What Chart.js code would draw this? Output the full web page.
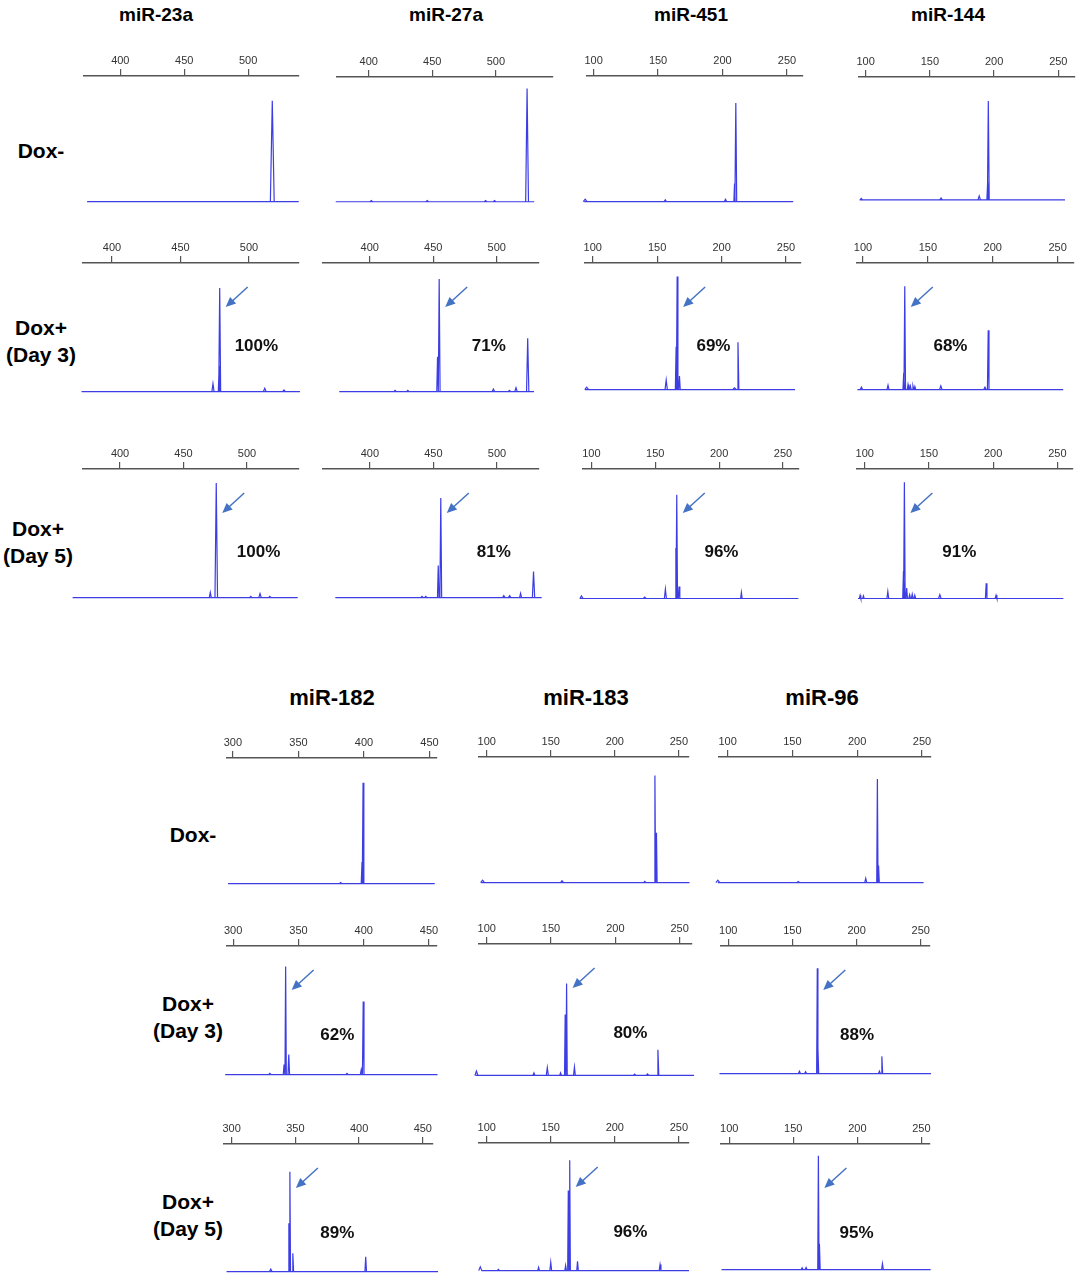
<!DOCTYPE html>
<html>
<head>
<meta charset="utf-8">
<title>miRNA fragment analysis</title>
<script src="https://cdn.jsdelivr.net/npm/chart.js@4.4.0/dist/chart.umd.min.js"></script>
<style>
    body { margin: 0; background: #fff; }
    #page { position: relative; width: 1079px; height: 1277px; overflow: hidden;
            font-family: "Liberation Sans", Arial, sans-serif; color: #000; }
    .title { position: absolute; font-weight: bold; font-size: 19px; white-space: nowrap;
             transform: translate(-50%, -50%); }
    .rowLabel { position: absolute; font-weight: bold; font-size: 21px; line-height: 27px;
                text-align: center; white-space: pre; transform: translate(-50%, -50%); }
    canvas { position: absolute; }
</style>
</head>
<body>
<div id="page"></div>
<script>
// ---- data ----
const topTitles = ['miR-23a', 'miR-27a', 'miR-451', 'miR-144'];
const bottomTitles = ['miR-182', 'miR-183', 'miR-96'];
const rowNames = ['Dox-', 'Dox+\n(Day 3)', 'Dox+\n(Day 5)'];

const ticks400 = [400, 450, 500];
const ticks100 = [100, 150, 200, 250];
const ticks300 = [300, 350, 400, 450];

// x-axis range (bp) of every panel, top block row by row then bottom block
const xRanges = [
    [371.6, 539.8], [375, 545], [94.9, 262.4], [94.8, 263],
    [378.8, 536.5], [363.2, 533.3], [94, 261.6], [95.4, 262.6],
    [370.8, 541], [363.1, 533.1], [93.4, 262.5], [94, 262.2],
    [295.5, 455.7], [94, 257.9], [93.3, 257],
    [295.3, 456.1], [94, 259.6], [94.4, 257.2],
    [294, 458], [94, 257.9], [93.6, 256.7]
];

// first and last size (bp) of each trace
const traceEnds = [
    [374, 539.6], [374, 530.2], [92.8, 254.8], [95.3, 255.2],
    [377.7, 537.2], [376, 529.4], [94, 257], [95.7, 254.3],
    [362.6, 540], [372.8, 535.2], [90.8, 262], [94.8, 254.7],
    [296.3, 454], [95.9, 258.3], [92.4, 251.3],
    [293.9, 456.5], [91.4, 261.2], [93.2, 258],
    [296, 461.9], [95.9, 257.9], [94, 257.2]
];

// peaks: [size bp, height (% of panel), half width bp]
const peaks23aDoxMinus = [[518.9, 80.4, 1.5]];
const peaks27aDoxMinus = [[402, 1, 1], [446, 1, 1], [492, 1, 1], [499, 1, 1], [524.6, 90.7, 1.1]];
const peaks451DoxMinus = [[93.5, 2, 1.5], [155.6, 1.5, 1], [202.3, 2, 1], [209.3, 14.4, 0.5], [210.3, 78.5, 0.7]];
const peaks144DoxMinus = [[96.5, 1.2, 1], [158.7, 1.5, 1], [188.4, 3.2, 1], [195.0, 15.4, 0.6], [195.5, 80.5, 0.7]];

const peaks23aDay3 = [[473.7, 6.2, 0.8], [478.2, 19.8, 0.6], [478.6, 80.6, 0.7], [511.5, 2.6, 1], [525.5, 1.2, 1]];
const peaks27aDay3 = [[420, 1, 1], [430, 1, 1], [453.4, 27.1, 0.6], [454.7, 87.6, 0.7], [497.4, 2, 1],
    [510, 1, 1], [515.2, 3, 1], [524.4, 41.5, 0.9]];
const peaks451Day3 = [[95.3, 2, 1.5], [157, 7.6, 0.9], [164.7, 33.9, 0.6], [165.5, 89.4, 0.6], [167.3, 10.7, 0.6],
    [210, 1.5, 1.5], [212.7, 37.5, 0.7]];
const peaks144Day3 = [[98.8, 2, 1], [119.3, 3.6, 0.8], [131.4, 13.4, 0.6], [132.2, 81.6, 0.6], [134.7, 4, 0.6],
    [136.5, 3, 0.7], [138.5, 3, 0.7], [140, 2.5, 0.7], [160, 3, 1], [194, 2, 1], [196.5, 46.9, 0.6]];

const peaks23aDay5 = [[471.1, 4.1, 0.8], [475.8, 89.1, 1.0], [503, 1, 1], [510.3, 3.1, 1], [518, 1, 1]];
const peaks27aDay5 = [[441, 1, 1], [444, 1, 1], [453.8, 25, 0.6], [455.8, 77.5, 0.7], [505.4, 1.5, 1],
    [510, 1.5, 1], [518.6, 3.3, 0.8], [528.8, 20.2, 0.9]];
const peaks451Day5 = [[92.2, 2, 1.2], [141.7, 1, 1], [157.9, 7.3, 0.8], [166.1, 39, 0.6], [166.8, 80.2, 0.6],
    [168.6, 9.3, 0.6], [217.4, 4.6, 0.6]];
const peaks144Day5 = [[96.4, 2.5, 0.6], [99, 2, 0.6], [118, 5.4, 0.7], [130.2, 21.2, 0.6], [130.9, 89.7, 0.6],
    [132.7, 8, 0.6], [135, 3, 0.7], [137, 3.5, 0.7], [139, 2.5, 0.7], [158.5, 3, 1], [194.6, 11.8, 0.6],
    [202.3, 2.5, 0.7]];

const peaks182DoxMinus = [[382.2, 1, 1], [398.5, 17.2, 0.6], [399.3, 80.4, 0.6]];
const peaks183DoxMinus = [[96.8, 2, 1.5], [158.8, 1.6, 1.2], [223.4, 1, 1], [231.3, 85.2, 0.5], [232.5, 39.7, 0.5]];
const peaks96DoxMinus = [[92.4, 2, 1.5], [154.5, 1, 1.2], [206.6, 3.5, 0.8], [215.6, 82.5, 0.5], [216.5, 13.6, 0.6]];

const peaks182Day3 = [[328.1, 1, 1], [339, 7.8, 0.6], [340.2, 84, 0.5], [342.6, 15.5, 0.6], [387.2, 1, 1],
    [398.1, 3.9, 0.7], [399.6, 56.8, 0.6]];
const peaks183Day3 = [[92, 3.3, 1.2], [136.7, 2, 0.8], [147.1, 5.9, 0.8], [157.4, 2, 0.7], [161, 46.3, 0.5],
    [162.1, 70, 0.5], [168.2, 6.3, 0.7], [215, 1, 1], [225, 1.2, 1], [233.1, 19.6, 0.7]];
const peaks96Day3 = [[155.5, 1.8, 0.8], [160.3, 1.5, 0.8], [169.4, 82.6, 0.5], [169.9, 20, 0.6], [217.8, 2, 0.8],
    [219.7, 13.5, 0.6]];

const peaks182Day5 = [[330.7, 2, 1], [344.9, 37.9, 0.5], [345.7, 78.3, 0.5], [348, 14.4, 0.6], [405.2, 11.7, 0.6]];
const peaks183Day5 = [[95, 3, 1.2], [109.1, 1, 1], [140.5, 2.6, 0.7], [150, 6.5, 0.7], [161.6, 4, 0.6],
    [163.7, 62.8, 0.5], [164.8, 86.4, 0.5], [170.9, 7.3, 0.6], [235.3, 4.7, 0.7]];
const peaks96Day5 = [[156.9, 1.5, 0.8], [160, 1.8, 0.8], [169.6, 90.7, 0.5], [170.4, 20.7, 0.6], [219.6, 4.8, 0.7]];

const percentLabels = [
    null, null, null, null,
    '100%', '71%', '69%', '68%',
    '100%', '81%', '96%', '91%',
    null, null, null,
    '62%', '80%', '88%',
    '89%', '96%', '95%'
];

// ---- layout of the figure (pixels) ----
const panelBoxes = [
    {left: 84, right: 299, axis: 76, base: 202},
    {left: 337, right: 553, axis: 76.7, base: 201.7},
    {left: 586.7, right: 802.7, axis: 75.7, base: 201},
    {left: 859.3, right: 1075, axis: 76.7, base: 200},
    {left: 83.3, right: 299.3, axis: 263.3, base: 392.3, dx: 36.7},
    {left: 322.7, right: 538.3, axis: 263.3, base: 392.3, dx: 49.6},
    {left: 585, right: 800.7, axis: 263.3, base: 390.3, dx: 36.3},
    {left: 857.3, right: 1074, axis: 263.3, base: 390.3, dx: 45.7},
    {left: 83.3, right: 299.3, axis: 469.3, base: 598, dx: 42.3},
    {left: 323, right: 538.9, axis: 469.3, base: 598.3, dx: 53},
    {left: 583.3, right: 799.3, axis: 469.3, base: 598.7, dx: 44.7},
    {left: 857.3, right: 1073.3, axis: 469.3, base: 599.3, dx: 55},
    {left: 226.7, right: 437, axis: 757.7, base: 883.3},
    {left: 479.3, right: 689.5, axis: 757.3, base: 883.3},
    {left: 719.1, right: 930.8, axis: 757.3, base: 882.7},
    {left: 226.7, right: 437, axis: 946, base: 1075, dx: 51.6},
    {left: 479.3, right: 692, axis: 944, base: 1075, dx: 63.8},
    {left: 720.6, right: 929.8, axis: 946, base: 1074, dx: 39.8},
    {left: 224.2, right: 433.4, axis: 1144, base: 1271.7, dx: 47.5},
    {left: 479.3, right: 689.5, axis: 1142.7, base: 1270, dx: 60.7},
    {left: 720.6, right: 929.8, axis: 1144, base: 1269.3, dx: 38.2}
];

const FONT = '"Liberation Sans", Arial, sans-serif';
const TRACE_COLOR = '#3d3de4';
const ARROW_COLOR = '#4472c4';
const AXIS_HEIGHT = 24;
const SIDE_PAD = 14;

const allPeaks = [
    peaks23aDoxMinus, peaks27aDoxMinus, peaks451DoxMinus, peaks144DoxMinus,
    peaks23aDay3, peaks27aDay3, peaks451Day3, peaks144Day3,
    peaks23aDay5, peaks27aDay5, peaks451Day5, peaks144Day5,
    peaks182DoxMinus, peaks183DoxMinus, peaks96DoxMinus,
    peaks182Day3, peaks183Day3, peaks96Day3,
    peaks182Day5, peaks183Day5, peaks96Day5
];

/**
 * Turn a baseline and a list of peaks into line points
 * (a null point breaks the line between peaks)
 */
function buildTrace(ends, peaks) {
    let points = [{x: ends[0], y: 0}, {x: ends[1], y: 0}];
    for (let i = 0; i < peaks.length; i++) {
        let p = peaks[i];
        points.push({x: p[0], y: null});
        points.push({x: p[0] - p[2], y: 0});
        points.push({x: p[0], y: p[1]});
        points.push({x: p[0] + p[2], y: 0});
    }
    return points;
}

// Arrow pointing at the main peak and the percentage next to it
const markerPlugin = {
    id: 'markers',
    afterDatasetsDraw(chart) {
        let info = chart.options.plugins.markers;
        if (!info || !info.text) return;
        let ctx = chart.ctx;
        let px = chart.scales.x.getPixelForValue(info.peak);
        let top = chart.chartArea.top;

        let hx = px + 6, hy = top + 44;
        let tx = px + 28, ty = top + 24;
        let ang = Math.atan2(hy - ty, hx - tx);
        ctx.save();
        ctx.strokeStyle = ARROW_COLOR;
        ctx.fillStyle = ARROW_COLOR;
        ctx.lineWidth = 1.5;
        ctx.beginPath();
        ctx.moveTo(tx, ty);
        ctx.lineTo(hx - 6 * Math.cos(ang), hy - 6 * Math.sin(ang));
        ctx.stroke();
        ctx.beginPath();
        ctx.moveTo(hx, hy);
        ctx.lineTo(hx - 10 * Math.cos(ang) + 4.5 * Math.sin(ang), hy - 10 * Math.sin(ang) - 4.5 * Math.cos(ang));
        ctx.lineTo(hx - 10 * Math.cos(ang) - 4.5 * Math.sin(ang), hy - 10 * Math.sin(ang) + 4.5 * Math.cos(ang));
        ctx.closePath();
        ctx.fill();

        ctx.fillStyle = '#111';
        ctx.font = 'bold 17px ' + FONT;
        ctx.textAlign = 'center';
        ctx.textBaseline = 'middle';
        ctx.fillText(info.text, px + info.dx, top + info.dy);
        ctx.restore();
    }
};

function addText(cls, text, x, y, size) {
    let div = document.createElement('div');
    div.className = cls;
    div.textContent = text;
    div.style.left = x + 'px';
    div.style.top = y + 'px';
    if (size) div.style.fontSize = size + 'px';
    document.getElementById('page').appendChild(div);
}

function drawPanel(i) {
    let box = panelBoxes[i];
    let range = xRanges[i];
    let tickVals = range[0] > 250 ? (range[0] > 360 ? ticks400 : ticks300) : ticks100;
    let peaks = allPeaks[i];
    let mainPeak = peaks[0];
    for (let n = 1; n < peaks.length; n++) {
        if (peaks[n][1] > mainPeak[1]) mainPeak = peaks[n];
    }

    let top = Math.round(box.axis) - AXIS_HEIGHT;
    let plotH = Math.round((box.base - box.axis) * 1.05);
    let canvas = document.createElement('canvas');
    canvas.width = Math.round(box.right - box.left) + 2 * SIDE_PAD;
    canvas.height = AXIS_HEIGHT + plotH;
    canvas.style.left = (Math.round(box.left) - SIDE_PAD) + 'px';
    canvas.style.top = top + 'px';
    canvas.style.width = canvas.width + 'px';
    canvas.style.height = canvas.height + 'px';
    document.getElementById('page').appendChild(canvas);

    new Chart(canvas, {
        type: 'line',
        data: {
            datasets: [{
                data: buildTrace(traceEnds[i], peaks),
                borderColor: TRACE_COLOR,
                borderWidth: 1.2,
                pointRadius: 0,
                tension: 0,
                spanGaps: false,
                clip: false
            }]
        },
        options: {
            responsive: false,
            animation: false,
            events: [],
            layout: {padding: {left: SIDE_PAD, right: SIDE_PAD, top: 0, bottom: 0}},
            plugins: {
                legend: {display: false},
                tooltip: {enabled: false},
                markers: {
                    text: percentLabels[i],
                    peak: mainPeak[0],
                    dx: box.dx,
                    dy: i < 12 ? 83 : 89
                }
            },
            scales: {
                x: {
                    type: 'linear',
                    position: 'top',
                    min: range[0],
                    max: range[1],
                    afterBuildTicks: (scale) => {
                        scale.ticks = tickVals.map(v => ({value: v}));
                    },
                    afterFit: (scale) => {
                        scale.height = AXIS_HEIGHT;
                    },
                    grid: {drawOnChartArea: false, tickLength: 7, color: '#555', lineWidth: 1.2},
                    border: {color: '#555', width: 1.5},
                    ticks: {
                        color: '#333',
                        font: {size: 11, family: FONT},
                        padding: 1,
                        maxRotation: 0,
                        autoSkip: false,
                        callback: (v) => String(v)
                    }
                },
                y: {display: false, min: -5, max: 100}
            }
        },
        plugins: [markerPlugin]
    });
}

// titles and row labels
const topTitleX = [156, 446, 691, 948];
for (let i = 0; i < topTitles.length; i++) addText('title', topTitles[i], topTitleX[i], 15);
const bottomTitleX = [332, 586, 822];
for (let i = 0; i < bottomTitles.length; i++) addText('title', bottomTitles[i], bottomTitleX[i], 698, 22);

addText('rowLabel', rowNames[0], 41, 150);
addText('rowLabel', rowNames[1], 41, 341);
addText('rowLabel', rowNames[2], 38, 542);
addText('rowLabel', rowNames[0], 193, 834);
addText('rowLabel', rowNames[1], 188, 1017);
addText('rowLabel', rowNames[2], 188, 1215);

for (let i = 0; i < panelBoxes.length; i++) {
    drawPanel(i);
}
</script>
</body>
</html>
